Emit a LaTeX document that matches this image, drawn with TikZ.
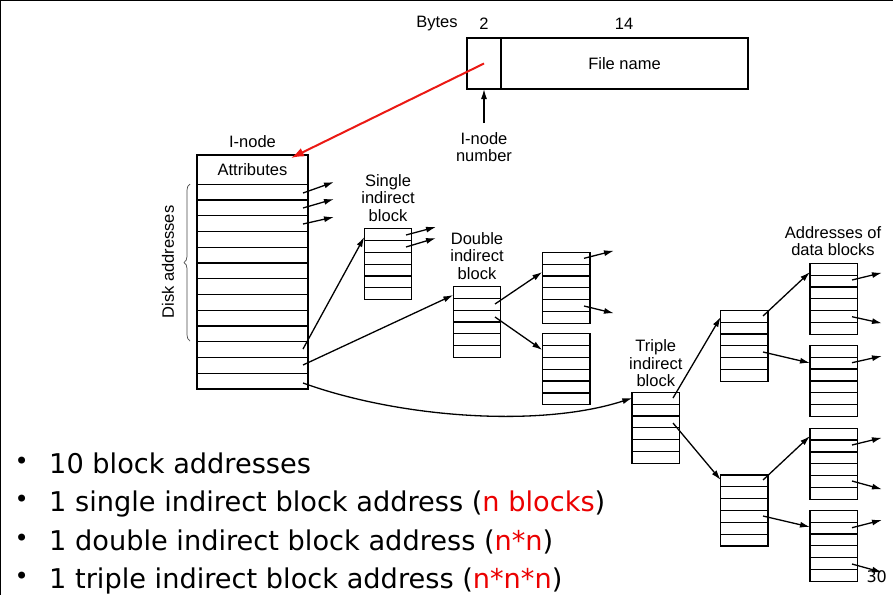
\documentclass[tikz,border=0pt]{standalone}
\usepackage{fontspec}
\setmainfont{Liberation Sans}
\newfontfamily\bulletfont{DejaVu Sans}
\usetikzlibrary{arrows.meta,calc,decorations.pathreplacing}
\definecolor{hired}{RGB}{235,25,20}
\definecolor{txtred}{RGB}{235,0,0}
\begin{document}
\begin{tikzpicture}[x=1pt,y=-1pt,
 lbl/.style={font=\fontsize{16.5}{17.3}\selectfont, align=center, inner sep=0pt},
 frame/.style={draw, line width=1.25pt, inner sep=0pt, outer sep=0pt},
 blk/.style={frame, minimum width=47.5pt, minimum height=71pt},
 ptr/.style={line width=1.3pt, -{Latex[length=10pt,width=6pt]}},
 bul/.style={font=\bulletfont\fontsize{27.2}{30}\selectfont, anchor=base west, inner sep=0pt},
 dot/.style={font=\bulletfont\fontsize{24}{26}\selectfont, inner sep=0pt},
]
\useasboundingbox (0,0) rectangle (893,595);
\fill[white] (0,0) rectangle (893,595);
\draw[line width=2.4pt] (0,595) -- (0,0) -- (893,0);

% directory entry
\node[frame, minimum width=34pt, minimum height=51pt] (dirnum) at (484,63.5) {};
\node[frame, minimum width=247pt, minimum height=51pt, font=\fontsize{16.5}{17.3}\selectfont] (fname) at (624.5,63.5) {File name};
\node[lbl] (bytes) at (437,24) {Bytes};
\node[lbl] (two) at (484,24) {2};
\node[lbl] (fourteen) at (624,24) {14};
\node[lbl] (inum) at (484,147) {I-node\\number};
\draw[ptr] ([yshift=9pt]inum.north) -- (dirnum.south);

% i-node
\node[lbl] (inodelbl) at (252.5,142) {I-node};
\node[frame, minimum width=111pt, minimum height=234pt] (inode) at (252.5,272) {};
\node[lbl] (attr) at (252.5,170) {Attributes};
\foreach \i in {0,...,12}
  \draw[line width=1.25pt] ($(inode.north west)+(0,{29.3+\i*15.75})$) -- ($(inode.north east)+(0,{29.3+\i*15.75})$);
\draw[decorate, decoration={brace, amplitude=6pt}, line width=0.7pt, black!70] (190,341) -- (190,184);
\node[lbl, rotate=90] (diskaddr) at (168,262) {Disk addresses};

% red pointer
\coordinate (redtip) at (291,158);
\draw[hired, line width=2pt, -{Latex[length=13pt,width=9pt]}] (dirnum.center) -- (redtip);

% direct arrows
\coordinate (r1s) at (303,193); \coordinate (r1e) at (334,182);
\coordinate (r2s) at (303,208); \coordinate (r2e) at (334,199);
\coordinate (r3s) at (303,224); \coordinate (r3e) at (334,217);
\draw[ptr] (r1s) -- (r1e);
\draw[ptr] (r2s) -- (r2e);
\draw[ptr] (r3s) -- (r3e);

% blocks
\node[blk] (sib) at (388,264.2) {};
\node[blk] (dib) at (477,322) {};
\node[blk] (d1) at (566.2,287.8) {};
\node[blk] (d2) at (566.2,369.2) {};
\node[blk] (tib) at (655.8,427.8) {};
\node[blk] (t1) at (744.2,345.8) {};
\node[blk] (t2) at (744.2,510.5) {};
\node[blk] (a1) at (833.7,298.8) {};
\node[blk] (a2) at (833.7,380.9) {};
\node[blk] (a3) at (833.7,463.7) {};
\node[blk] (a4) at (833.7,545.8) {};
\foreach \n in {sib,dib,d1,d2,tib,t1,t2,a1,a2,a3,a4}
  \foreach \i in {1,...,5}
    \draw[line width=1.25pt] ($(\n.north west)!\i/6!(\n.south west)$) -- ($(\n.north east)!\i/6!(\n.south east)$);

\node[lbl] (sibl) at (388,198) {Single\\indirect\\block};
\node[lbl] (dibl) at (477,256) {Double\\indirect\\block};
\node[lbl] (tibl) at (655.8,363.3) {Triple\\indirect\\block};
\node[lbl] (addrl) at (833,241) {Addresses of\\data blocks};

% indirect pointers from i-node
\coordinate (i11) at (303,349); \coordinate (sibin) at (364.3,237);
\coordinate (i12) at (303,365); \coordinate (dibin) at (453.3,295);
\coordinate (i13) at (303,383); \coordinate (tibin) at (632.3,398);
\draw[ptr] (i11) -- (sibin);
\draw[ptr] (i12) -- (dibin);
\draw[ptr] (i13) .. controls (400,418) and (540,428) .. (tibin);

% single indirect out
\coordinate (s1s) at (406,235); \coordinate (s1e) at (436,227);
\coordinate (s2s) at (406,247); \coordinate (s2e) at (436,238);
\draw[ptr] (s1s) -- (s1e);
\draw[ptr] (s2s) -- (s2e);

% double indirect
\coordinate (db1s) at (495,304); \coordinate (db1e) at (542.3,272);
\coordinate (db2s) at (495,317); \coordinate (db2e) at (542.3,350);
\draw[ptr] (db1s) -- (db1e);
\draw[ptr] (db2s) -- (db2e);
\coordinate (dd1s) at (584,258.3); \coordinate (dd1e) at (614,250.7);
\coordinate (dd2s) at (584,306); \coordinate (dd2e) at (614,313.3);
\draw[ptr] (dd1s) -- (dd1e);
\draw[ptr] (dd2s) -- (dd2e);

% triple indirect
\coordinate (tb1s) at (673,398); \coordinate (tb1e) at (720.7,317);
\coordinate (tb2s) at (673,423); \coordinate (tb2e) at (720.7,480);
\draw[ptr] (tb1s) -- (tb1e);
\draw[ptr] (tb2s) -- (tb2e);
\coordinate (u1s) at (763,316); \coordinate (u1e) at (810,272);
\coordinate (u2s) at (763,352); \coordinate (u2e) at (810,363);
\coordinate (l1s) at (763,480); \coordinate (l1e) at (810,436);
\coordinate (l2s) at (763,516); \coordinate (l2e) at (810,527);
\draw[ptr] (u1s) -- (u1e);
\draw[ptr] (u2s) -- (u2e);
\draw[ptr] (l1s) -- (l1e);
\draw[ptr] (l2s) -- (l2e);

% data block pointers
\coordinate (x1s) at (852,280);   \coordinate (x1e) at (882,272.7);
\coordinate (x2s) at (852,316.7); \coordinate (x2e) at (882,323.3);
\coordinate (x3s) at (852,362.7); \coordinate (x3e) at (882,356);
\coordinate (x4s) at (852,445);   \coordinate (x4e) at (882,437.7);
\coordinate (x5s) at (852,481);   \coordinate (x5e) at (882,489.3);
\coordinate (x6s) at (852,527.7); \coordinate (x6e) at (882,520);
\coordinate (x7s) at (852,564);   \coordinate (x7e) at (882,572.3);
\foreach \k in {1,...,7} \draw[ptr] (x\k s) -- (x\k e);

% bullets
\node[dot] (bd1) at (21.7,463.3) {•};
\node[dot] (bd2) at (21.7,501.7) {•};
\node[dot] (bd3) at (21.7,540) {•};
\node[dot] (bd4) at (21.7,578.3) {•};
\node[bul] (b1) at (49,473.3) {10 block addresses};
\node[bul] (b2) at (49,511.7) {1 single indirect block address (\textcolor{txtred}{n blocks})};
\node[bul] (b3) at (49,550) {1 double indirect block address (\textcolor{txtred}{n*n})};
\node[bul] (b4) at (49,588.3) {1 triple indirect block address (\textcolor{txtred}{n*n*n})};
\node[font=\bulletfont\fontsize{16}{18}\selectfont, inner sep=0pt] (pagenum) at (876.7,576.7) {30};
\end{tikzpicture}
\end{document}
